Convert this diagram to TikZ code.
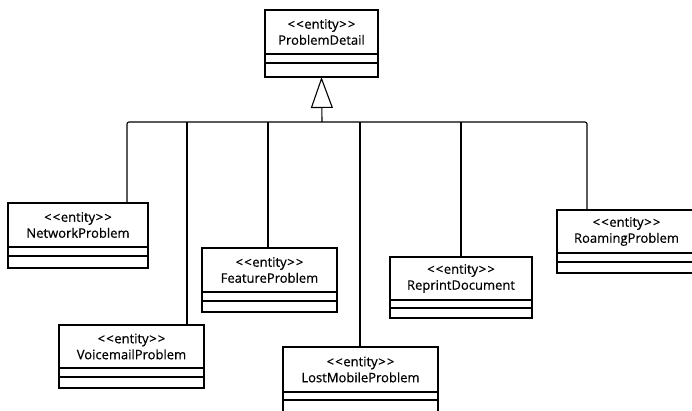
\documentclass[tikz,border=0pt]{standalone}
\usepackage{fontspec}
\setmainfont{Open Sans}
% a slightly heavier cut of Open Sans for the class labels
\newfontfamily\classfont{Open Sans}[BoldFont={Open Sans}, BoldFeatures={FakeBold=0.6}]
\usetikzlibrary{arrows.meta}

\tikzset{
  classbox/.style={draw, line width=1.3pt, inner sep=0pt, outer sep=0pt, anchor=north west},
  classlabel/.style={align=center, font=\classfont\bfseries\fontsize{13}{16}\selectfont, inner sep=0pt},
  compline/.style={line width=1.1pt},
  link/.style={line width=1.1pt},
  generalisation/.style={-{Triangle[open,length=31pt,width=22pt,line width=1.1pt]}}
}

% stereotype text, with the angle brackets kept apart so they stay plain
\newcommand\stereo[1]{<\kern1.2pt<\kern0.6pt#1\kern0.6pt>\kern1.2pt>}

% #1 name, #2 left, #3 top, #4 right, #5 first divider, #6 second divider, #7 bottom, #8 class name
\newcommand\entityclass[8]{%
  \node[classbox, minimum width=#4pt-#2pt, minimum height=#7pt-#3pt] (#1) at (#2,#3) {};
  \draw[compline] (#2,#5) -- (#4,#5);
  \draw[compline] (#2,#6) -- (#4,#6);
  \node[classlabel] (#1-name) at ({(#2+#4)/2},{(#3+#5)/2}) {\stereo{entity}\\#8};
}

\begin{document}
\begin{tikzpicture}[x=1pt, y=-1pt]
  \clip (0,0) rectangle (692,410);
  \fill[white] (0,0) rectangle (692,410);

  % superclass
  \entityclass{pd}{265}{10}{378}{54}{63}{77}{ProblemDetail}

  % subclasses
  \entityclass{net}{8}{203}{148}{247}{256}{268}{NetworkProblem}
  \entityclass{voice}{59}{325}{204}{368}{377}{388}{VoicemailProblem}
  \entityclass{feat}{202}{248}{337}{292}{301}{312}{FeatureProblem}
  \entityclass{lost}{283}{347}{438}{392}{400}{414}{LostMobileProblem}
  \entityclass{reprint}{390}{257}{532}{300}{308}{318}{ReprintDocument}
  \entityclass{roam}{557}{210}{696}{253}{262}{273}{RoamingProblem}

  % generalisation tree
  \coordinate (hub) at (322,122);
  \coordinate (dN) at (127,122);
  \coordinate (dV) at (187,122);
  \coordinate (dF) at (268,122);
  \coordinate (dL) at (360,122);
  \coordinate (dP) at (461,122);
  \coordinate (dR) at (587,122);

  \draw[link, generalisation] (hub) -- (pd.south);
  \draw[link, rounded corners=2pt] (dN |- net.north) -- (dN) -- (dR) -- (dR |- roam.north);
  \draw[link] (dV) -- (dV |- voice.north);
  \draw[link] (dF) -- (dF |- feat.north);
  \draw[link] (dL) -- (dL |- lost.north);
  \draw[link] (dP) -- (dP |- reprint.north);
\end{tikzpicture}
\end{document}
